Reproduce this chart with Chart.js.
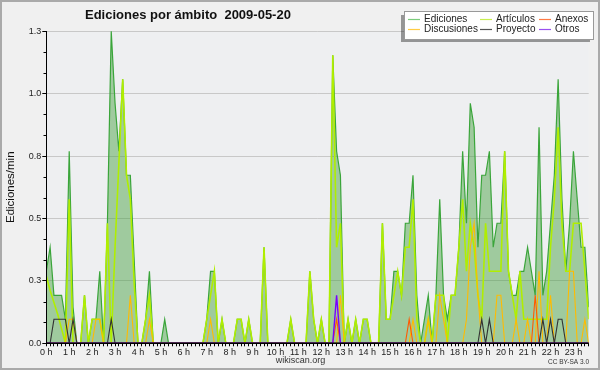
<!DOCTYPE html>
<html>
<head>
<meta charset="utf-8">
<title>Ediciones por ámbito 2009-05-20</title>
<script src="https://cdn.jsdelivr.net/npm/chart.js@4.4.1/dist/chart.umd.min.js"></script>
<style>
  html, body { margin: 0; padding: 0; background: #f0f0f0; }
  canvas { display: block; }
</style>
</head>
<body>
<canvas id="chart" width="600" height="370"></canvas>
<script>
// Ediciones por minuto, en tramos de 10 minutos (0:00 -> 23:40)
const hourLabels = ['0 h', '1 h', '2 h', '3 h', '4 h', '5 h', '6 h', '7 h', '8 h', '9 h', '10 h', '11 h',
                    '12 h', '13 h', '14 h', '15 h', '16 h', '17 h', '18 h', '19 h', '20 h', '21 h', '22 h', '23 h'];
const yTicks = [0, 0.26, 0.52, 0.78, 1.04, 1.3];

const ediciones = [
  0.3, 0.4, 0.2, 0.2, 0.2, 0.1, 0.8, 0.15, 0, 0, 0.2, 0,
  0.1, 0.1, 0.3, 0, 0.5, 1.3, 1.0, 0.8, 1.1, 0.7, 0.7, 0.35,
  0, 0, 0.1, 0.3, 0, 0, 0, 0.1, 0, 0, 0, 0,
  0, 0, 0, 0, 0, 0, 0.1, 0.3, 0.3, 0, 0.1, 0,
  0, 0, 0.1, 0.1, 0, 0.1, 0, 0, 0, 0.4, 0, 0,
  0, 0, 0, 0, 0.1, 0, 0, 0, 0, 0.3, 0.1, 0,
  0.1, 0, 0, 1.2, 0.8, 0.7, 0, 0.1, 0, 0.1, 0, 0.1,
  0.1, 0, 0, 0, 0.5, 0.1, 0.1, 0.3, 0.3, 0.2, 0.5, 0.5,
  0.7, 0.2, 0, 0.1, 0.2, 0, 0.2, 0.6, 0.2, 0.1, 0.2, 0.2,
  0.4, 0.8, 0.5, 1.0, 0.9, 0.4, 0.7, 0.7, 0.8, 0.4, 0.5, 0.5,
  0.8, 0.3, 0.2, 0.2, 0.3, 0.3, 0.4, 0.3, 0.2, 0.9, 0.2, 0.3,
  0.5, 0.7, 1.1, 0.6, 0.3, 0.5, 0.8, 0.6, 0.4, 0.4, 0.15
];
const articulos = [
  0.28, 0.22, 0.17, 0.12, 0.06, 0, 0.6, 0, 0, 0, 0.2, 0,
  0.1, 0.1, 0.1, 0, 0.5, 0, 0.4, 0.75, 1.1, 0.7, 0.6, 0.25,
  0, 0, 0.1, 0.2, 0, 0, 0, 0, 0, 0, 0, 0,
  0, 0, 0, 0, 0, 0, 0.1, 0.2, 0.3, 0, 0.1, 0,
  0, 0, 0.1, 0.1, 0, 0.1, 0, 0, 0, 0.4, 0, 0,
  0, 0, 0, 0, 0.1, 0, 0, 0, 0, 0.3, 0.1, 0,
  0.1, 0, 0, 1.2, 0.4, 0.5, 0, 0.1, 0, 0.1, 0, 0.1,
  0.1, 0, 0, 0, 0.5, 0.1, 0.1, 0.2, 0.3, 0.2, 0.4, 0.4,
  0.6, 0.1, 0, 0, 0.1, 0, 0.2, 0.2, 0.2, 0, 0.2, 0.2,
  0.4, 0.6, 0.3, 0.5, 0.4, 0.2, 0.1, 0.5, 0.3, 0.3, 0.3, 0.3,
  0.8, 0.3, 0.2, 0.1, 0.3, 0.1, 0.1, 0.1, 0.1, 0.1, 0.1, 0.1,
  0.4, 0.6, 0.9, 0.5, 0.3, 0.3, 0.5, 0.5, 0.5, 0.3, 0.1
];
const anexos = [
  0, 0, 0, 0, 0, 0, 0, 0, 0, 0, 0, 0,
  0, 0, 0, 0, 0, 0, 0, 0, 0, 0, 0, 0,
  0, 0, 0, 0, 0, 0, 0, 0, 0, 0, 0, 0,
  0, 0, 0, 0, 0, 0, 0, 0, 0, 0, 0, 0,
  0, 0, 0, 0, 0, 0, 0, 0, 0, 0, 0, 0,
  0, 0, 0, 0, 0, 0, 0, 0, 0, 0, 0, 0,
  0, 0, 0, 0, 0.1, 0, 0, 0, 0, 0, 0, 0,
  0, 0, 0, 0, 0, 0, 0, 0, 0, 0, 0, 0.1,
  0, 0, 0, 0, 0, 0, 0, 0, 0, 0, 0, 0,
  0, 0, 0, 0, 0, 0, 0, 0, 0, 0, 0, 0,
  0, 0, 0, 0, 0, 0, 0, 0, 0.2, 0, 0, 0,
  0, 0, 0, 0, 0, 0, 0, 0, 0, 0, 0
];
const discusiones = [
  0, 0, 0, 0, 0, 0, 0.1, 0.1, 0, 0, 0, 0,
  0, 0.1, 0.1, 0, 0, 0, 0, 0, 0, 0, 0.2, 0,
  0, 0, 0, 0.1, 0, 0, 0, 0, 0, 0, 0, 0,
  0, 0, 0, 0, 0, 0, 0, 0.1, 0, 0, 0, 0,
  0, 0, 0, 0, 0, 0, 0, 0, 0, 0, 0, 0,
  0, 0, 0, 0, 0, 0, 0, 0, 0, 0, 0, 0,
  0, 0, 0, 0, 0, 0.2, 0, 0, 0, 0, 0, 0,
  0, 0, 0, 0, 0, 0, 0, 0, 0, 0, 0, 0,
  0.1, 0, 0, 0, 0.1, 0, 0, 0.2, 0.1, 0, 0, 0,
  0, 0, 0.1, 0.4, 0.5, 0.2, 0, 0, 0, 0, 0.2, 0.2,
  0, 0, 0, 0.1, 0, 0, 0.1, 0, 0, 0.3, 0, 0,
  0.2, 0, 0, 0, 0, 0.3, 0.3, 0, 0, 0.1, 0
];
const proyecto = [
  0, 0, 0.1, 0.1, 0.1, 0.1, 0, 0.1, 0, 0, 0, 0,
  0, 0, 0, 0, 0, 0.1, 0, 0, 0, 0, 0, 0,
  0, 0, 0, 0, 0, 0, 0, 0, 0, 0, 0, 0,
  0, 0, 0, 0, 0, 0, 0, 0, 0, 0, 0, 0,
  0, 0, 0, 0, 0, 0, 0, 0, 0, 0, 0, 0,
  0, 0, 0, 0, 0, 0, 0, 0, 0, 0, 0, 0,
  0, 0, 0, 0, 0, 0, 0, 0, 0, 0, 0, 0,
  0, 0, 0, 0, 0, 0, 0, 0, 0, 0, 0, 0,
  0, 0, 0, 0, 0, 0, 0, 0, 0, 0, 0, 0,
  0, 0, 0, 0, 0, 0, 0.1, 0, 0.1, 0, 0, 0,
  0, 0, 0, 0, 0, 0, 0, 0, 0, 0, 0.1, 0,
  0.1, 0, 0.1, 0.1, 0, 0, 0, 0, 0, 0, 0
];
const otros = [
  0, 0, 0, 0, 0, 0, 0, 0, 0, 0, 0, 0,
  0, 0, 0, 0, 0, 0, 0, 0, 0, 0, 0, 0,
  0, 0, 0, 0, 0, 0, 0, 0, 0, 0, 0, 0,
  0, 0, 0, 0, 0, 0, 0, 0, 0, 0, 0, 0,
  0, 0, 0, 0, 0, 0, 0, 0, 0, 0, 0, 0,
  0, 0, 0, 0, 0, 0, 0, 0, 0, 0, 0, 0,
  0, 0, 0, 0, 0.2, 0, 0, 0, 0, 0, 0, 0,
  0, 0, 0, 0, 0, 0, 0, 0, 0, 0, 0, 0,
  0, 0, 0, 0, 0, 0, 0, 0, 0, 0, 0, 0,
  0, 0, 0, 0, 0, 0, 0, 0, 0, 0, 0, 0,
  0, 0, 0, 0, 0, 0, 0, 0, 0, 0, 0, 0,
  0, 0, 0, 0, 0, 0, 0, 0, 0, 0, 0
];

const FONT = '"Liberation Sans", Arial, sans-serif';
Chart.defaults.font.family = FONT;
Chart.defaults.color = '#222';

// colores de la leyenda (más claros que las líneas)
const legendColors = {
  'Ediciones': '#7ccc7c',
  'Artículos': '#c8ee50',
  'Anexos': '#ff7a44',
  'Discusiones': '#ffcc44',
  'Proyecto': '#555555',
  'Otros': '#9a50f0'
};

// fondo, ejes, título, leyenda y pie
const decor = {
  id: 'decor',
  beforeDraw(chart) {
    const { ctx, chartArea: a } = chart;
    ctx.save();
    ctx.fillStyle = '#f0f0f0';
    ctx.fillRect(0, 0, chart.width, chart.height);
    ctx.fillStyle = '#eeeff1';
    ctx.fillRect(a.left, a.top, a.right - a.left, a.bottom - a.top);
    ctx.restore();
  },
  afterDatasetsDraw(chart) {
    const { ctx, chartArea: a, scales } = chart;
    const y = scales.y;
    const x0 = Math.round(a.left) + 0.5;
    ctx.save();
    ctx.strokeStyle = '#000';
    ctx.lineWidth = 1;
    ctx.beginPath();
    ctx.moveTo(x0, a.top);
    ctx.lineTo(x0, a.bottom + 1);
    const step = (yTicks[1] - yTicks[0]) / 3;
    for (let k = 1; k < (yTicks.length - 1) * 3; k++) {
      if (k % 3 === 0) continue;
      const py = Math.round(y.getPixelForValue(k * step)) + 0.5;
      ctx.moveTo(x0 - 3, py);
      ctx.lineTo(x0, py);
    }
    ctx.stroke();
    // eje x encima de las líneas a cero
    ctx.lineWidth = 1.5;
    ctx.beginPath();
    ctx.moveTo(a.left, a.bottom);
    ctx.lineTo(a.right, a.bottom);
    ctx.stroke();
    ctx.restore();
  },
  afterDraw(chart) {
    const { ctx } = chart;
    ctx.save();

    // título
    ctx.fillStyle = '#111';
    ctx.font = 'bold 13px ' + FONT;
    ctx.textBaseline = 'alphabetic';
    ctx.textAlign = 'left';
    ctx.fillText('Ediciones por ámbito  2009-05-20', 85, 19);

    // leyenda
    ctx.fillStyle = 'rgba(0,0,0,0.38)';
    ctx.fillRect(401, 15, 189, 27);
    ctx.fillStyle = '#fff';
    ctx.fillRect(404, 11, 190, 29);
    ctx.strokeStyle = '#999';
    ctx.lineWidth = 1;
    ctx.strokeRect(404.5, 11.5, 189, 28);
    const slots = [[408, 19], [480, 19], [539, 19], [408, 29], [480, 29], [539, 29]];
    ctx.font = '10px ' + FONT;
    ctx.textBaseline = 'middle';
    chart.data.datasets.forEach((ds, i) => {
      const [lx, ly] = slots[i];
      ctx.strokeStyle = legendColors[ds.label];
      ctx.lineWidth = 1.2;
      ctx.beginPath();
      ctx.moveTo(lx, ly + 0.5);
      ctx.lineTo(lx + 12, ly + 0.5);
      ctx.stroke();
      ctx.fillStyle = '#222';
      ctx.fillText(ds.label, lx + 16, ly);
    });

    // pie
    ctx.fillStyle = '#333';
    ctx.font = '9px ' + FONT;
    ctx.textAlign = 'center';
    ctx.fillText('wikiscan.org', 300.5, 361);
    ctx.font = '6.5px ' + FONT;
    ctx.textAlign = 'right';
    ctx.fillText('CC BY-SA 3.0', 589, 362);

    // marco
    ctx.strokeStyle = '#aaa';
    ctx.lineWidth = 2;
    ctx.strokeRect(1, 1, chart.width - 2, chart.height - 2);
    ctx.restore();
  }
};

const line = (label, data, color, width, order) => ({
  label, data, order,
  borderColor: color,
  borderWidth: width,
  pointRadius: 0,
  tension: 0,
  fill: false,
  clip: { left: 0, top: 5, right: 0, bottom: 0 }
});

const datasets = [
  Object.assign(line('Ediciones', ediciones, '#3aa53a', 1.2, 6),
    { fill: 'origin', backgroundColor: 'rgba(63,158,58,0.45)' }),
  line('Artículos', articulos, '#b0ee00', 1.6, 5),
  line('Anexos', anexos, '#ff5a00', 1.1, 3),
  line('Discusiones', discusiones, '#ffbb00', 1.1, 4),
  line('Proyecto', proyecto, '#333333', 1.1, 2),
  line('Otros', otros, '#7a00ff', 1.4, 1)
];

new Chart(document.getElementById('chart'), {
  type: 'line',
  data: {
    labels: ediciones.map((_, i) => i),
    datasets
  },
  options: {
    responsive: false,
    animation: false,
    devicePixelRatio: 1,
    events: [],
    layout: { padding: { left: 0, right: 11.3, top: 31.2, bottom: 0 } },
    plugins: {
      legend: { display: false },
      title: { display: false },
      tooltip: { enabled: false }
    },
    scales: {
      x: {
        type: 'category',
        offset: false,
        z: 1,
        afterFit(s) { s.height = 26.7; },
        grid: { drawOnChartArea: false, drawTicks: true, tickLength: 3, tickColor: '#000' },
        border: { display: true, color: '#000', width: 1 },
        ticks: {
          autoSkip: false,
          maxRotation: 0,
          minRotation: 0,
          padding: 1,
          color: '#222',
          font: { size: 9 },
          callback: (v, i) => (i % 6 === 0 ? hourLabels[i / 6] : '')
        }
      },
      y: {
        min: 0,
        max: yTicks[yTicks.length - 1],
        afterFit(s) { s.width = 46.3; },
        afterBuildTicks(s) { s.ticks = yTicks.map(v => ({ value: v })); },
        grid: { color: '#c8c8c8', lineWidth: 1, drawTicks: true, tickLength: 4, tickColor: '#000' },
        border: { display: true, color: '#000', width: 1 },
        ticks: {
          padding: 1,
          color: '#222',
          font: { size: 9 },
          callback: v => v.toFixed(1)
        },
        title: {
          display: true,
          text: 'Ediciones/min',
          color: '#111',
          font: { size: 11.5 },
          padding: { top: 4, bottom: 0 }
        }
      }
    }
  },
  plugins: [decor]
});
</script>
</body>
</html>
